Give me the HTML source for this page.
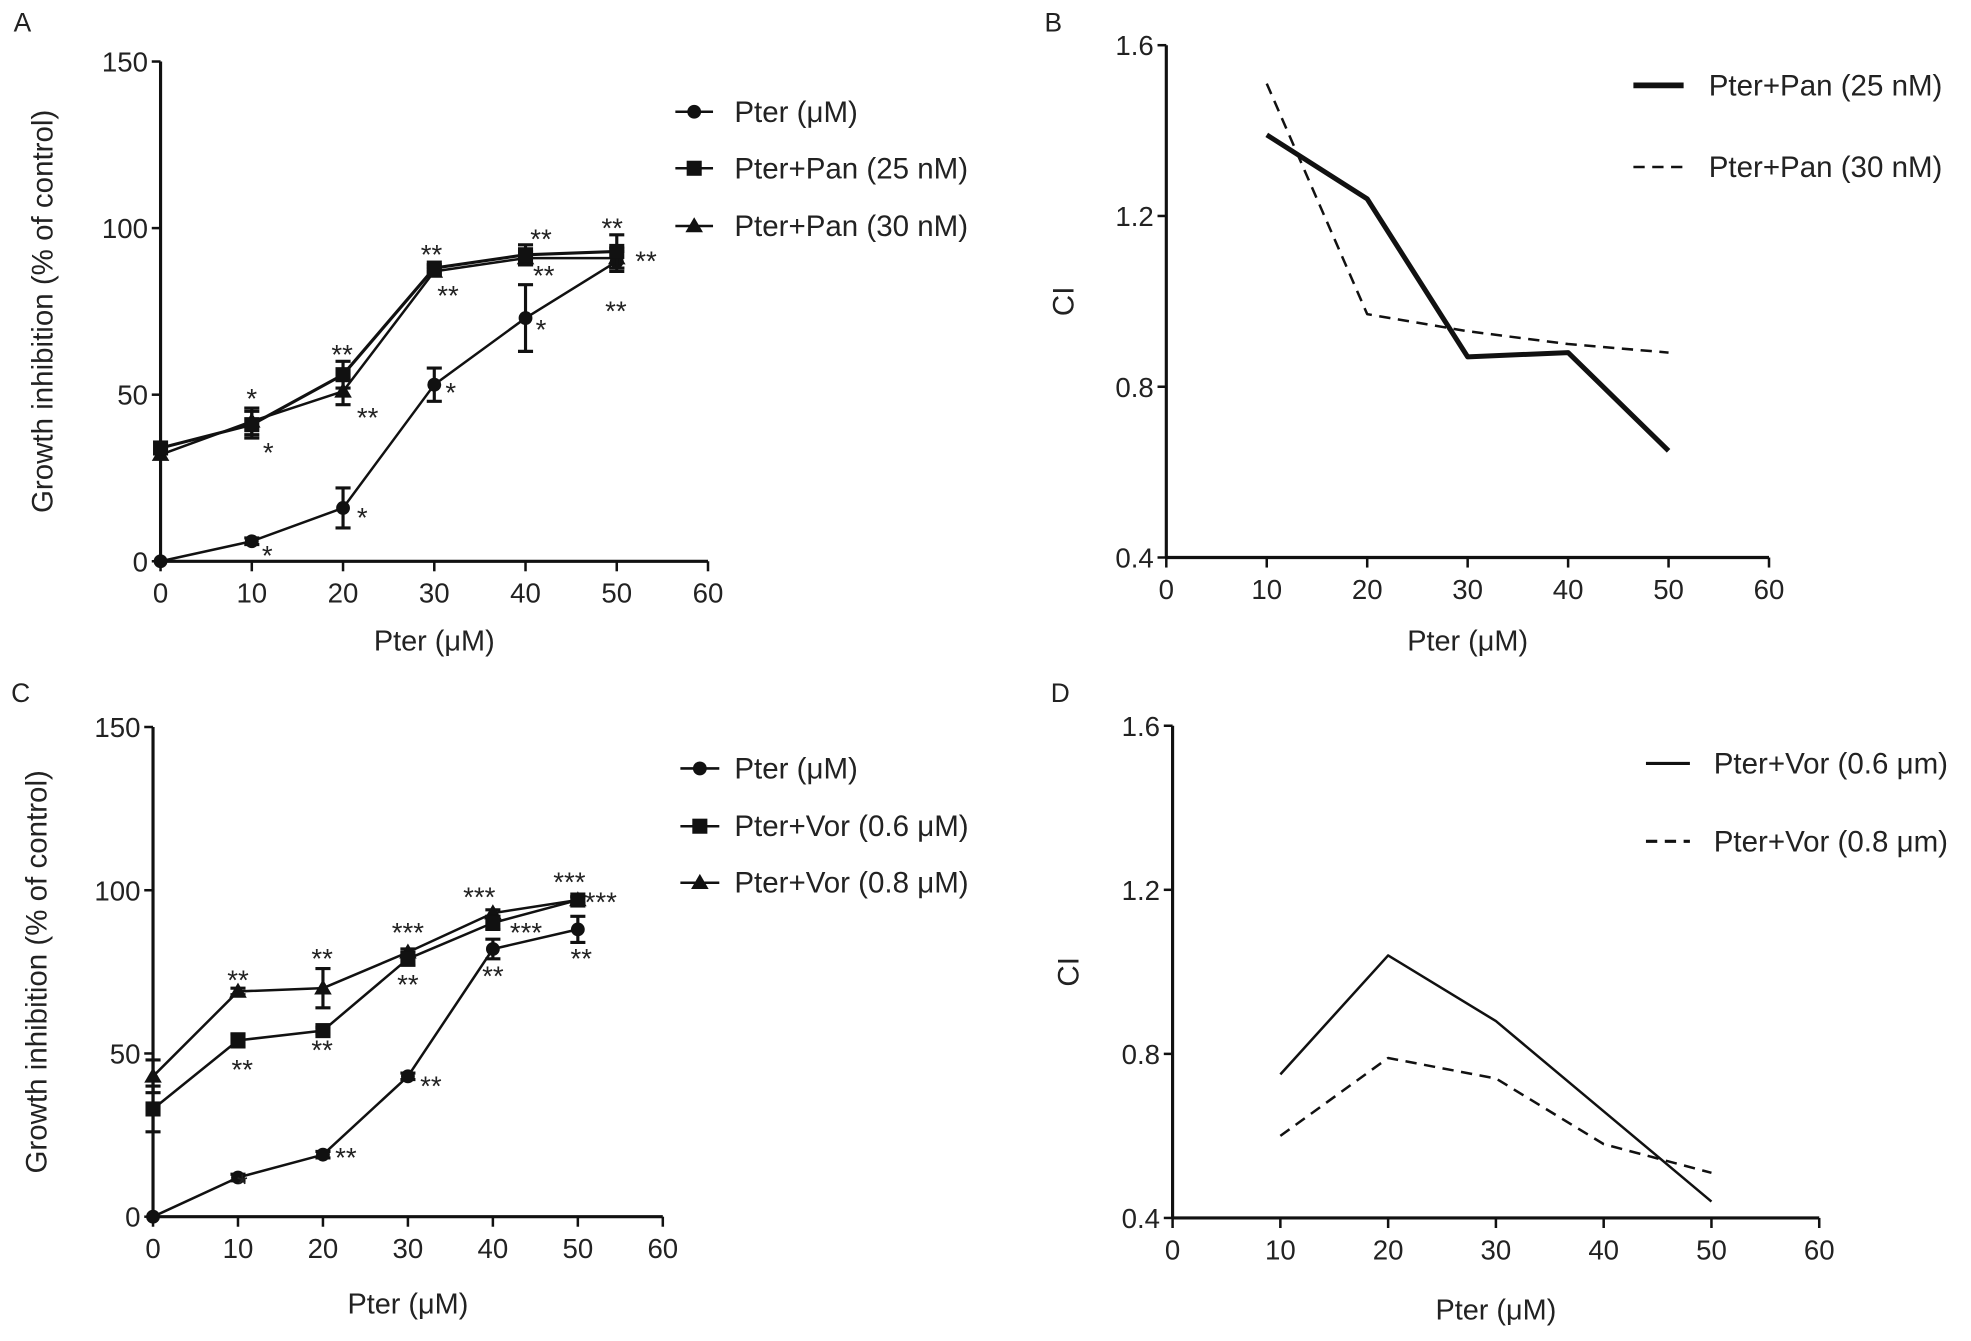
<!DOCTYPE html>
<html><head><meta charset="utf-8"><style>
html,body{margin:0;padding:0;background:#fff}
svg{display:block}
text{font-family:"Liberation Sans",Arial,sans-serif;fill:#222}
</style></head><body>
<svg id="fig" width="1971" height="1341" viewBox="0 0 1568 1068" xmlns="http://www.w3.org/2000/svg"></svg>
<script>
// ---- Panel A data ----
const xCats = [0,10,20,30,40,50];
const aPter = [0,6,16,53,73,90];
const aPterErr = [0,1,6,5,10,3];
const aPan25 = [34,41,56,88,92,93];
const aPan25Err = [0,4,4,1,3,5];
const aPan30 = [32,42,51,87,91,91];
const aPan30Err = [0,4,4,1,2,3];
const aStars = [[11.7,2.6,"*"],[22.1,14,"*"],[31.8,51.6,"*"],[41.7,70.5,"*"],[49.9,76,"**"],[10,49.8,"*"],[11.8,33.5,"*"],[19.9,63,"**"],[22.7,44,"**"],[29.7,93,"**"],[31.5,80.7,"**"],[41.7,97.6,"**"],[42,86.7,"**"],[49.5,101,"**"],[53.2,91,"**"]];
// ---- Panel B data ----
const ciX = [10,20,30,40,50];
const bPan25 = [1.39,1.24,0.87,0.88,0.65];
const bPan30 = [1.51,0.97,0.93,0.90,0.88];
// ---- Panel C data ----
const cPter = [0,12,19,43,82,88];
const cPterErr = [0,1,1,1,3,4];
const cVor06 = [33,54,57,79,90,97];
const cVor06Err = [7,2,1,2,2,1];
const cVor08 = [43,69,70,81,93,97];
const cVor08Err = [5,1,6,1,1,1];
const cStars = [[10.5,11,"*"],[22.7,19,"**"],[32.7,41,"**"],[40,74.6,"**"],[50.4,80,"**"],[10,73.5,"**"],[10.5,46,"**"],[19.9,80,"**"],[19.9,52,"**"],[30,88,"***"],[30,72,"**"],[38.4,98.8,"***"],[43.9,88,"***"],[49,103.5,"***"],[52.7,97.3,"***"]];
// ---- Panel D data ----
const dVor06 = [0.75,1.04,0.88,0.66,0.44];
const dVor08 = [0.60,0.79,0.74,0.58,0.51];
const xTicks = [0,10,20,30,40,50,60];
const gTicks = [0,50,100,150];
const ciTicks = [0.4,0.8,1.2,1.6];

const NS="http://www.w3.org/2000/svg";
const svg=document.getElementById('fig');
function mk(tag,attrs,parent){const e=document.createElementNS(NS,tag);for(const k in attrs)e.setAttribute(k,attrs[k]);(parent||svg).appendChild(e);return e;}
function txt(s,x,y,size,anchor,parent){const t=mk('text',{x:x,y:y,'font-size':size,'text-anchor':anchor||'middle'},parent);t.textContent=s;return t;}

function panel(name,letter,lx,ly,px0,px1,py0,py1,xmin,xmax,ymin,ymax,yt,ytitle,ytx,xtitleY){
  const g=mk('g',{});
  
  
  const sx=v=>px0+(v-xmin)/(xmax-xmin)*(px1-px0);
  const sy=v=>py0-(v-ymin)/(ymax-ymin)*(py0-py1);
  const L=txt(letter,lx,ly,21,'start',g);
  
  const ax=mk('g',{},g);
  
  mk('line',{x1:px0,y1:py0,x2:px1,y2:py0,stroke:'#111','stroke-width':2.5},ax);
  xTicks.forEach(v=>{mk('line',{x1:sx(v),y1:py0,x2:sx(v),y2:py0+8,stroke:'#111','stroke-width':2},ax);
    const t=txt(v,sx(v),py0+33,22,'middle',ax);});
  const xt=txt('Pter (\u03bcM)',(px0+px1)/2,xtitleY,23,'middle',g);
  
  const ay=mk('g',{},g);
  
  mk('line',{x1:px0,y1:py0,x2:px0,y2:py1,stroke:'#111','stroke-width':2.5},ay);
  yt.forEach(v=>{mk('line',{x1:px0-7,y1:sy(v),x2:px0,y2:sy(v),stroke:'#111','stroke-width':2},ay);
    const t=txt(String(v),px0-10,sy(v)+8,22,'end',ay);});
  const cy=(py0+py1)/2;
  const yl=txt(ytitle,ytx,cy,23.5,'middle',g);yl.setAttribute('transform','rotate(-90 '+ytx+' '+cy+')');
  
  return {g,sx,sy};
}
function series(P,name,xs,ys,errs,marker,width,dash){
  const g=mk('g',{},P.g);
  
  const pts=xs.map((x,i)=>P.sx(x)+','+P.sy(ys[i])).join(' ');
  const l=mk('polyline',{points:pts,fill:'none',stroke:'#111','stroke-width':width,'stroke-dasharray':dash||'none','stroke-linejoin':'round'},g);
  
  xs.forEach((x,i)=>{
    const cx=P.sx(x),cy=P.sy(ys[i]);
    if(errs&&errs[i]>0){const t=P.sy(ys[i]+errs[i]),b=P.sy(ys[i]-errs[i]);
      mk('path',{d:`M${cx},${t}V${b}M${cx-6},${t}H${cx+6}M${cx-6},${b}H${cx+6}`,stroke:'#111','stroke-width':2.5,fill:'none'},g);}
    if(marker){drawMarker(g,marker,cx,cy);}
  });
}
function drawMarker(g,m,cx,cy){
  let e;
  if(m==='circle')e=mk('circle',{cx:cx,cy:cy,r:5.5,fill:'#111'},g);
  else if(m==='square')e=mk('rect',{x:cx-6,y:cy-6,width:12,height:12,fill:'#111'},g);
  else e=mk('polygon',{points:`${cx},${cy-7} ${cx-7},${cy+5} ${cx+7},${cy+5}`,fill:'#111'},g);
  
}
function stars(P,list){
  list.forEach(s=>{const t=txt(s[2],P.sx(s[0]),P.sy(s[1])+10,22,'middle',P.g);
    });
}
function legend(name,x1,x2,tx,entries){
  const g=mk('g',{});
  
  entries.forEach(en=>{
    const e=mk('g',{},g);
    
    mk('line',{x1:x1,y1:en.y,x2:x2,y2:en.y,stroke:'#111','stroke-width':en.w,'stroke-dasharray':en.dash||'none'},e);
    if(en.m)drawMarker(e,en.m,(x1+x2)/2,en.y);
    txt(en.label,tx,en.y+8,23.5,'start',e);
  });
}

// Panel A
const A=panel('panel-a-growth-pan','A',10,25,127,563,447,49,0,60,0,150,gTicks,'Growth inhibition (% of control)',41,518);
series(A,'series-pter',xCats,aPter,aPterErr,'circle',2);
series(A,'series-pan-30',xCats,aPan30,aPan30Err,'triangle',2);
series(A,'series-pan-25',xCats,aPan25,aPan25Err,'square',2.5);
stars(A,aStars);
legend('legend-a',537,567,584,[{y:89,w:2,m:'circle',label:'Pter (\u03bcM)'},{y:134,w:2,m:'square',label:'Pter+Pan (25 nM)'},{y:180,w:2,m:'triangle',label:'Pter+Pan (30 nM)'}]);

// Panel B
const B=panel('panel-b-ci-pan','B',831,25,928,1408,444,36,0,60,0.4,1.6,ciTicks,'CI',854,518);
series(B,'series-ci-pan-25',ciX,bPan25,null,null,4);
series(B,'series-ci-pan-30',ciX,bPan30,null,null,2,'9,6');
legend('legend-b',1300,1340,1360,[{y:68,w:4.5,label:'Pter+Pan (25 nM)'},{y:133,w:2,dash:'9,6',label:'Pter+Pan (30 nM)'}]);

// Panel C
const C=panel('panel-c-growth-vor','C',8,559,121,527,969,579,0,60,0,150,gTicks,'Growth inhibition (% of control)',36,1046);
series(C,'series-pter',xCats,cPter,cPterErr,'circle',2);
series(C,'series-vor-08',xCats,cVor08,cVor08Err,'triangle',2);
series(C,'series-vor-06',xCats,cVor06,cVor06Err,'square',2);
stars(C,cStars);
legend('legend-c',541,572,584,[{y:612,w:2,m:'circle',label:'Pter (\u03bcM)'},{y:658,w:2,m:'square',label:'Pter+Vor (0.6 \u03bcM)'},{y:703,w:2,m:'triangle',label:'Pter+Vor (0.8 \u03bcM)'}]);

// Panel D
const D=panel('panel-d-ci-vor','D',836,559,933,1448,970,578,0,60,0.4,1.6,ciTicks,'CI',858,1051);
series(D,'series-ci-vor-06',ciX,dVor06,null,null,2);
series(D,'series-ci-vor-08',ciX,dVor08,null,null,2,'9,6');
legend('legend-d',1310,1345,1364,[{y:608,w:2.5,label:'Pter+Vor (0.6 \u03bcm)'},{y:670,w:2.5,dash:'9,6',label:'Pter+Vor (0.8 \u03bcm)'}]);
</script>
</body></html>
